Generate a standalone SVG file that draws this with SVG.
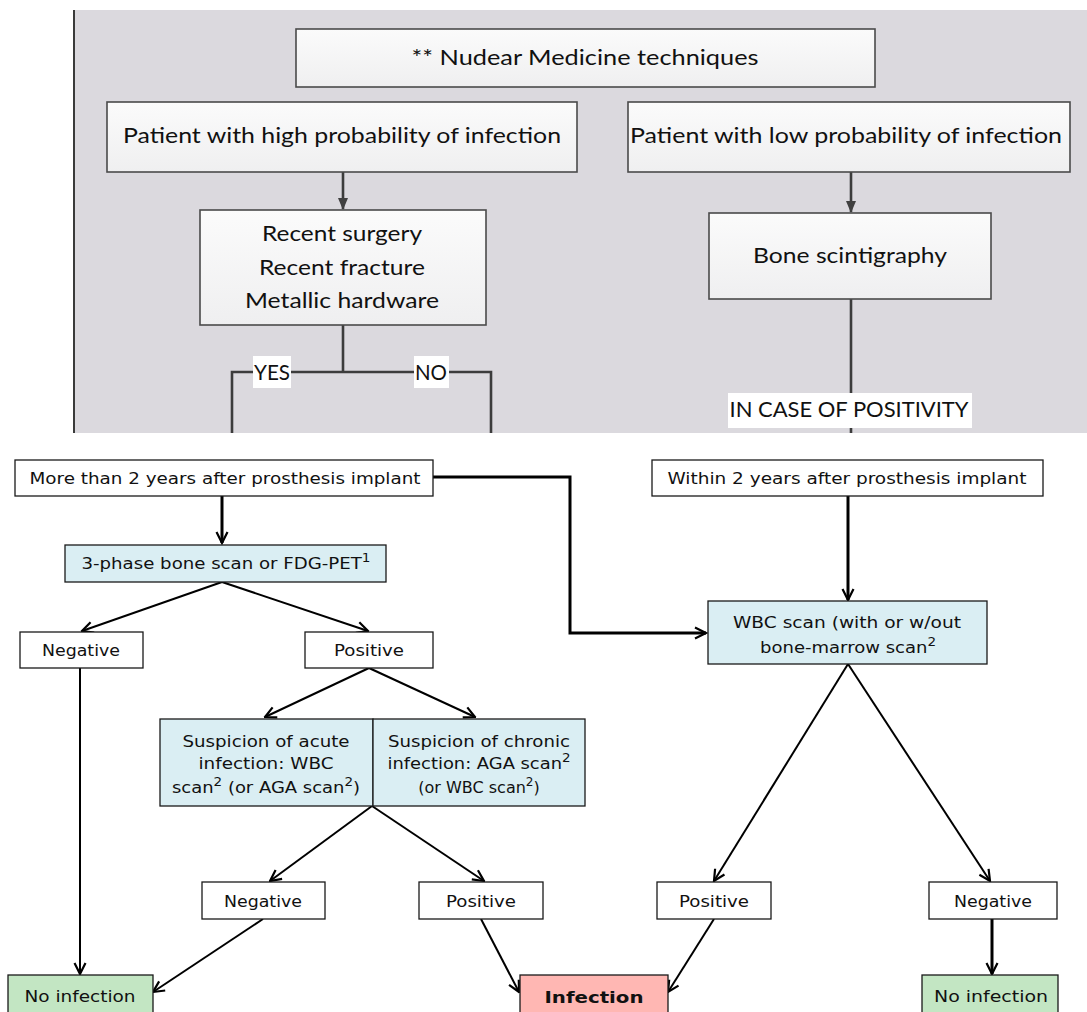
<svg xmlns="http://www.w3.org/2000/svg" width="1087" height="1012" viewBox="0 0 1087 1012">
<defs>
<linearGradient id="boxgrad" x1="0" y1="0" x2="0" y2="1">
<stop offset="0" stop-color="#fbfbfb"/>
<stop offset="1" stop-color="#efeff0"/>
</linearGradient>
<marker id="tri" viewBox="0 0 12 12" refX="11" refY="6" markerWidth="12" markerHeight="12" markerUnits="userSpaceOnUse" orient="auto">
<path d="M0,1 L12,6 L0,11 Z" fill="#404040"/>
</marker>
<marker id="chev" viewBox="0 0 14 14" refX="12.5" refY="7" markerWidth="14" markerHeight="14" markerUnits="userSpaceOnUse" orient="auto">
<path d="M1.5,1.5 L12.5,7 L1.5,12.5" fill="none" stroke="#000" stroke-width="2.2" stroke-linejoin="miter"/>
</marker>
</defs>
<style>
.tbox{fill:url(#boxgrad);stroke:#4a4a4a;stroke-width:1.6}
.tt{font-family:Lato,"Open Sans","Liberation Sans",sans-serif;font-size:22px;fill:#111;text-anchor:middle}
.tline{fill:none;stroke:#3c3c3c;stroke-width:2.6}
.lbl{fill:#ffffff}
.bbox{fill:#ffffff;stroke:#1a1a1a;stroke-width:1.3}
.blue{fill:#daeef3;stroke:#1a1a1a;stroke-width:1.3}
.green{fill:#c3e6c3;stroke:#1a1a1a;stroke-width:1.3}
.pink{fill:#ffb7b3;stroke:#1a1a1a;stroke-width:1.3}
.bt{font-family:"DejaVu Sans",Verdana,sans-serif;font-size:16px;fill:#111;text-anchor:middle}
.sup{font-size:12px}
.bl{fill:none;stroke:#000;stroke-width:2;marker-end:url(#chev)}
.blk{fill:none;stroke:#000;stroke-width:3;marker-end:url(#chev)}
</style>
<rect x="0" y="0" width="1087" height="1012" fill="#ffffff"/>
<rect x="73" y="10" width="1014" height="423" fill="#dbd9de"/>
<line x1="74" y1="10" x2="74" y2="433" stroke="#3a3a3a" stroke-width="2"/>

<g id="connectors">
<line class="tline" x1="343" y1="172" x2="343" y2="209" marker-end="url(#tri)"/>
<line class="tline" x1="851" y1="172" x2="851" y2="212" marker-end="url(#tri)"/>
<polyline class="tline" points="343,325 343,372"/>
<polyline class="tline" points="232,433 232,372 491,372 491,433"/>
<line class="tline" x1="851" y1="299" x2="851" y2="433"/>
<polyline class="blk" points="222,496 222,543"/>
<polyline class="blk" points="433,477 570,477 570,633 706,633"/>
<polyline class="blk" points="848,496 848,600"/>
<line class="bl" x1="222" y1="582" x2="82" y2="631"/>
<line class="bl" x1="222" y1="582" x2="368" y2="631"/>
<line class="bl" x1="80" y1="668" x2="80" y2="974"/>
<line class="bl" x1="369" y1="668" x2="265" y2="717"/>
<line class="bl" x1="369" y1="668" x2="475" y2="717"/>
<line class="bl" x1="372" y1="806" x2="270" y2="881"/>
<line class="bl" x1="372" y1="806" x2="484" y2="881"/>
<line class="bl" x1="263" y1="919" x2="153" y2="992"/>
<line class="bl" x1="481" y1="919" x2="519" y2="992"/>
<line class="bl" x1="848" y1="664" x2="714" y2="881"/>
<line class="bl" x1="848" y1="664" x2="990" y2="881"/>
<line class="bl" x1="714" y1="919" x2="668" y2="992"/>
<polyline class="blk" points="992,919 992,974"/>
</g>

<g id="title">
<rect class="tbox" x="296" y="29" width="579" height="58"/>
<text class="tt" x="585" y="65" textLength="347" lengthAdjust="spacingAndGlyphs">** Nudear Medicine techniques</text>
</g>
<g id="high-prob">
<rect class="tbox" x="107" y="102" width="470" height="70"/>
<text class="tt" x="342" y="143" textLength="438" lengthAdjust="spacingAndGlyphs">Patient with high probability of infection</text>
</g>
<g id="low-prob">
<rect class="tbox" x="628" y="102" width="442" height="70"/>
<text class="tt" x="846" y="143" textLength="432" lengthAdjust="spacingAndGlyphs">Patient with low probability of infection</text>
</g>
<g id="risk-factors">
<rect class="tbox" x="200" y="210" width="286" height="115"/>
<text class="tt" x="342" y="241" textLength="160" lengthAdjust="spacingAndGlyphs">Recent surgery</text>
<text class="tt" x="342" y="275" textLength="166" lengthAdjust="spacingAndGlyphs">Recent fracture</text>
<text class="tt" x="342" y="308" textLength="194" lengthAdjust="spacingAndGlyphs">Metallic hardware</text>
</g>
<g id="bone-scint">
<rect class="tbox" x="709" y="213" width="282" height="86"/>
<text class="tt" x="850" y="263" textLength="194" lengthAdjust="spacingAndGlyphs">Bone scintigraphy</text>
</g>
<g id="yes-label">
<rect class="lbl" x="253" y="356" width="38" height="32"/>
<text class="tt" x="272" y="380" font-size="20" textLength="36" lengthAdjust="spacingAndGlyphs">YES</text>
</g>
<g id="no-label">
<rect class="lbl" x="414" y="356" width="35" height="32"/>
<text class="tt" x="431" y="380" font-size="20" textLength="32" lengthAdjust="spacingAndGlyphs">NO</text>
</g>
<g id="positivity-label">
<rect class="lbl" x="728" y="393" width="244" height="35"/>
<text class="tt" x="849" y="417" font-size="21" textLength="239" lengthAdjust="spacingAndGlyphs">IN CASE OF POSITIVITY</text>
</g>

<g id="more-2y">
<rect class="bbox" x="15" y="460" width="418" height="36"/>
<text class="bt" x="225" y="484" textLength="391" lengthAdjust="spacingAndGlyphs">More than 2 years after prosthesis implant</text>
</g>
<g id="within-2y">
<rect class="bbox" x="652" y="460" width="391" height="36"/>
<text class="bt" x="847" y="484" textLength="359" lengthAdjust="spacingAndGlyphs">Within 2 years after prosthesis implant</text>
</g>
<g id="three-phase">
<rect class="blue" x="65" y="545" width="321" height="37"/>
<text class="bt" x="226" y="569" textLength="289" lengthAdjust="spacingAndGlyphs">3-phase bone scan or FDG-PET<tspan class="sup" dy="-7">1</tspan></text>
</g>
<g id="neg1">
<rect class="bbox" x="20" y="632" width="123" height="36"/>
<text class="bt" x="81" y="656" textLength="78" lengthAdjust="spacingAndGlyphs">Negative</text>
</g>
<g id="pos1">
<rect class="bbox" x="305" y="632" width="128" height="36"/>
<text class="bt" x="369" y="656" textLength="70" lengthAdjust="spacingAndGlyphs">Positive</text>
</g>
<g id="wbc">
<rect class="blue" x="708" y="601" width="279" height="63"/>
<text class="bt" x="847" y="628" textLength="228" lengthAdjust="spacingAndGlyphs">WBC scan (with or w/out</text>
<text class="bt" x="848" y="653" textLength="176" lengthAdjust="spacingAndGlyphs">bone-marrow scan<tspan class="sup" dy="-7">2</tspan></text>
</g>
<g id="acute">
<rect class="blue" x="160" y="719" width="213" height="87"/>
<text class="bt" x="266" y="747" textLength="167" lengthAdjust="spacingAndGlyphs">Suspicion of acute</text>
<text class="bt" x="266" y="769" textLength="135" lengthAdjust="spacingAndGlyphs">infection: WBC</text>
<text class="bt" x="266" y="793" textLength="188" lengthAdjust="spacingAndGlyphs">scan<tspan class="sup" dy="-7">2</tspan><tspan dy="7"> (or AGA scan</tspan><tspan class="sup" dy="-7">2</tspan><tspan dy="7">)</tspan></text>
</g>
<g id="chronic">
<rect class="blue" x="373" y="719" width="212" height="87"/>
<text class="bt" x="479" y="747" textLength="182" lengthAdjust="spacingAndGlyphs">Suspicion of chronic</text>
<text class="bt" x="479" y="769" textLength="183" lengthAdjust="spacingAndGlyphs">infection: AGA scan<tspan class="sup" dy="-7">2</tspan></text>
<text class="bt" x="479" y="793" font-size="15">(or WBC scan<tspan class="sup" dy="-7">2</tspan><tspan dy="7">)</tspan></text>
</g>
<g id="neg2">
<rect class="bbox" x="202" y="882" width="123" height="37"/>
<text class="bt" x="263" y="907" textLength="78" lengthAdjust="spacingAndGlyphs">Negative</text>
</g>
<g id="pos2">
<rect class="bbox" x="419" y="882" width="124" height="37"/>
<text class="bt" x="481" y="907" textLength="70" lengthAdjust="spacingAndGlyphs">Positive</text>
</g>
<g id="pos3">
<rect class="bbox" x="657" y="882" width="114" height="37"/>
<text class="bt" x="714" y="907" textLength="70" lengthAdjust="spacingAndGlyphs">Positive</text>
</g>
<g id="neg3">
<rect class="bbox" x="929" y="882" width="128" height="37"/>
<text class="bt" x="993" y="907" textLength="78" lengthAdjust="spacingAndGlyphs">Negative</text>
</g>
<g id="no-infection-left">
<rect class="green" x="8" y="975" width="145" height="45"/>
<text class="bt" x="80" y="1002" textLength="111" lengthAdjust="spacingAndGlyphs">No infection</text>
</g>
<g id="infection">
<rect class="pink" x="520" y="975" width="148" height="45"/>
<text class="bt" x="594" y="1003" font-size="20" font-weight="bold" textLength="99" lengthAdjust="spacingAndGlyphs">Infection</text>
</g>
<g id="no-infection-right">
<rect class="green" x="922" y="975" width="136" height="45"/>
<text class="bt" x="991" y="1002" textLength="114" lengthAdjust="spacingAndGlyphs">No infection</text>
</g>
</svg>
